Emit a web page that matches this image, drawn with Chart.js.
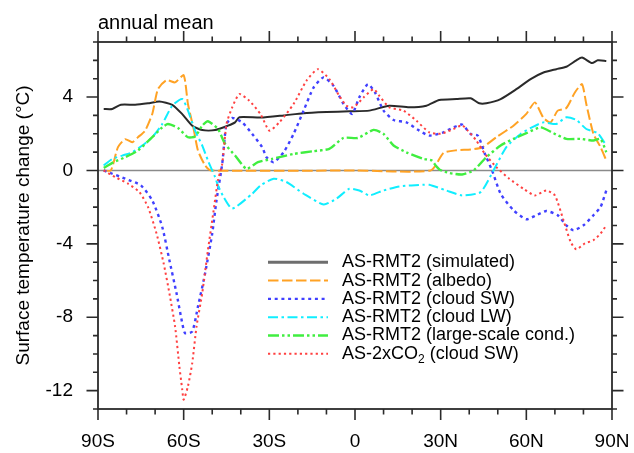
<!DOCTYPE html>
<html>
<head>
<meta charset="utf-8">
<script src="https://cdn.jsdelivr.net/npm/chart.js@4.4.1/dist/chart.umd.min.js"></script>
<style>
html,body{margin:0;padding:0;background:#fff;}
#wrap{width:634px;height:453px;position:relative;}
</style>
</head>
<body>
<div id="wrap"><canvas id="c" width="634" height="453"></canvas></div>
<script>
// ---------- text ----------
const titleText = 'annual mean';
const yAxisTitle = 'Surface temperature change (°C)';
const xTickValues = [-90, -60, -30, 0, 30, 60, 90];
const xTickLabels = ['90S', '60S', '30S', '0', '30N', '60N', '90N'];
const yTickValues = [-12, -8, -4, 0, 4];
const seriesLabels = [
  'AS-RMT2 (simulated)',
  'AS-RMT2 (albedo)',
  'AS-RMT2 (cloud SW)',
  'AS-RMT2 (cloud LW)',
  'AS-RMT2 (large-scale cond.)',
  'AS-2xCO₂ (cloud SW)'
];

// ---------- data (latitude, value) ----------
const simLat = [-88,-85,-82,-77,-72.5,-68.5,-64,-60.5,-57,-53.5,-49,-44.5,-42,-40.5,-33,-25,-18,-10,-2,5,12,19,25,29.5,35.5,40.5,43.5,46,51,56.5,61.5,66,70.5,74,77.5,79.5,83,85,88];
const simVal = [3.35,3.35,3.58,3.58,3.66,3.76,3.58,3.07,2.44,2.2,2.2,2.44,2.62,2.9,2.88,3.0,3.12,3.18,3.22,3.26,3.53,3.44,3.53,3.84,3.89,3.93,3.66,3.66,3.89,4.43,4.98,5.34,5.52,5.65,6.0,6.15,5.85,6.0,5.97];

const albLat = [-88,-85.5,-83,-80.5,-78,-76,-73.5,-71,-69,-66,-63,-60,-58.5,-56.5,-55,-52.5,-50.5,0,26.5,31,35.5,40.5,44.5,49.5,55.5,60,63,66,68.5,71,74,77,79.5,81,83.5,86,88];
const albVal = [0,0,1.27,1.7,1.54,1.81,2.17,3.08,4.43,4.92,4.8,5.19,3.62,2.26,1.09,0.27,0,0,0,0.95,1.1,1.14,1.25,1.81,2.44,3.08,3.71,2.86,2.62,3.26,3.4,4.25,4.7,3.62,1.99,1.27,0.54];

const swLat = [-88,-85,-80.5,-75,-71,-67.5,-65,-62.5,-60.5,-59.5,-57,-55,-52.5,-50,-48.5,-46.5,-45,-43,-39.5,-36,-32.5,-31,-28.5,-25,-21.5,-18,-14.5,-11,-7.5,-4,-1,1.5,4.5,7,10,13.5,18,22.5,26,31,34.5,37.5,40.5,43,45.5,48,51,55.5,60,63.5,67,71,74,76.5,80,83.5,86,88];
const swVal = [0,-0.18,-0.45,-0.81,-1.63,-3.08,-4.89,-6.69,-8.32,-8.87,-8.78,-7.42,-5.61,-3.44,-1.63,0.36,2.53,2.86,2.62,1.99,1.27,0.72,0.45,0.99,1.99,3.26,4.52,5.07,4.61,3.62,3.08,3.98,4.7,4.25,3.26,2.75,2.62,2.17,1.9,2.08,2.35,2.5,1.99,1.9,0.9,0,-1.27,-2.17,-2.66,-2.44,-2.21,-2.44,-2.99,-3.26,-2.99,-2.44,-1.99,-1.09];

const lwLat = [-88,-85,-81.5,-78,-74.5,-71,-67.5,-64,-60.5,-58.5,-56,-53.5,-51.5,-49,-48,-46,-43,-36,-33,-28.5,-24,-18,-11,-6.5,-2,1.5,5,10,15.5,24,26,32,37.5,44,48.5,53,58,62.5,66,70.5,74,77.5,81,85,88];
const lwVal = [0.27,0.63,0.81,0.99,1.36,1.81,2.53,3.53,3.89,3.26,2.17,1.36,0.54,-0.36,-0.81,-1.45,-2.08,-1.27,-0.81,-0.45,-0.63,-1.27,-1.85,-1.54,-1.0,-1.09,-1.36,-1.09,-0.87,-0.78,-0.78,-1.09,-1.36,-1.18,0,1.27,1.99,2.39,2.62,2.53,2.9,2.75,2.26,2.03,1.36];

const lscLat = [-88,-84.5,-80.5,-76,-71,-67.5,-65.5,-62,-58.5,-56,-53.5,-51.5,-48,-45.5,-42,-38,-34,-29,-21.5,-14.5,-9,-4,1,6.5,10,13.5,18,24,26.8,28.5,29.7,33,37.5,41.5,46,51,55.5,60,65,69.5,74,79,83.5,86,88];
const lscVal = [0.14,0.45,0.72,1.09,1.81,2.35,2.53,2.32,1.81,1.85,2.44,2.68,2.26,1.45,0.81,0.09,0.45,0.63,0.9,1.05,1.18,1.77,1.77,2.21,1.99,1.36,0.99,0.63,0.55,0.22,0.04,-0.14,-0.22,0,0.72,1.36,1.72,2.03,2.35,2.03,1.72,1.72,1.63,1.72,0.99];

const co2Lat = [-88,-84,-79.5,-75.5,-72.5,-69.5,-67,-65,-63,-61.5,-60.5,-60,-58.5,-57,-55.5,-53.5,-51.5,-49.5,-48,-46.5,-45,-43,-40.5,-37,-33,-30,-26.5,-21.5,-17,-13,-9,-5.5,-3,-0.5,3,6.5,8.5,12,17,21.5,26,30,34.5,37.5,39.5,42.5,45.5,49.5,54,59,63,67,70,73,75.5,77.5,80.5,83.5,86,88];
const co2Val = [0,-0.36,-0.72,-1.18,-1.99,-3.44,-5.07,-6.69,-8.51,-10.68,-11.94,-12.49,-11.76,-10.5,-8.51,-6.69,-4.34,-2.17,-0.54,0.36,2.53,3.44,4.16,3.8,3.05,2.17,2.62,3.62,4.89,5.52,4.98,4.07,3.53,3.44,3.98,4.43,4.07,3.44,3.26,2.71,2.08,2.0,2.26,2.46,2.17,1.63,0.9,0.18,-0.45,-1.0,-1.36,-1.09,-1.36,-2.71,-3.89,-4.3,-3.98,-3.8,-3.44,-2.99];

// ---------- build ----------
const FONT = "'Liberation Sans', Arial, Helvetica, sans-serif";
const pts = (lat, val) => lat.map((x, i) => ({x: x, y: val[i]}));

const styles = [
  {color: '#2a2a2a', legendColor: '#6e6e6e', width: 2, legendWidth: 3, dash: []},
  {color: '#ffa224', width: 2, dash: [10.5, 3.5]},
  {color: '#4040ff', width: 2.4, dash: [3, 3.7]},
  {color: '#10eeff', width: 2, dash: [10, 3.5, 2.5, 3.5]},
  {color: '#40ee40', width: 2.4, dash: [11, 3, 2.5, 3, 2.5, 3]},
  {color: '#ff4040', width: 2, dash: [2.2, 3.1]}
];
const seriesData = [pts(simLat, simVal), pts(albLat, albVal), pts(swLat, swVal), pts(lwLat, lwVal), pts(lscLat, lscVal), pts(co2Lat, co2Val)];

const datasets = seriesData.map((d, i) => ({
  label: seriesLabels[i],
  data: d,
  borderColor: styles[i].color,
  borderWidth: styles[i].width,
  borderDash: styles[i].dash,
  pointRadius: 0,
  fill: false,
  tension: 0.2,
  order: 6 - i
}));

const axesPlugin = {
  id: 'nclAxes',
  beforeDatasetsDraw(chart) {
    const {ctx, chartArea: a, scales: {y}} = chart;
    const y0 = y.getPixelForValue(0);
    ctx.save();
    ctx.strokeStyle = '#8a8a8a';
    ctx.lineWidth = 1.6;
    ctx.beginPath();
    ctx.moveTo(a.left, y0);
    ctx.lineTo(a.right, y0);
    ctx.stroke();
    ctx.restore();
  },
  afterDatasetsDraw(chart) {
    const {ctx, chartArea: a, scales: {x, y}} = chart;
    ctx.save();
    ctx.strokeStyle = '#2b2b2b';
    ctx.lineWidth = 1.8;
    ctx.strokeRect(a.left, a.top, a.right - a.left, a.bottom - a.top);
    ctx.lineWidth = 1.6;
    ctx.beginPath();
    for (let v = -90; v <= 90; v += 10) {
      const px = x.getPixelForValue(v);
      const major = v % 30 === 0;
      const len = major ? 11 : 5.5;
      ctx.moveTo(px, a.bottom); ctx.lineTo(px, a.bottom + len);
      ctx.moveTo(px, a.top); ctx.lineTo(px, a.top - len);
    }
    for (let v = -13; v <= 7; v += 1) {
      const py = y.getPixelForValue(v);
      const major = yTickValues.includes(v);
      const len = major ? 11.5 : 5;
      ctx.moveTo(a.left, py); ctx.lineTo(a.left - len, py);
      ctx.moveTo(a.right, py); ctx.lineTo(a.right + len, py);
    }
    ctx.stroke();
    ctx.restore();
  },
  afterDraw(chart) {
    const {ctx, chartArea: a} = chart;
    ctx.save();
    // title
    ctx.fillStyle = '#000';
    ctx.font = '20px ' + FONT;
    ctx.textAlign = 'left';
    ctx.textBaseline = 'alphabetic';
    ctx.fillText(titleText, a.left, 29);
    // legend
    const lx0 = 268, lx1 = 328, tx = 342, ly0 = 262.3, dy = 18.3;
    chart.data.datasets.forEach((ds, i) => {
      const st = styles[i];
      const yy = ly0 + i * dy;
      ctx.save();
      ctx.strokeStyle = st.legendColor || st.color;
      ctx.lineWidth = st.legendWidth || st.width;
      ctx.setLineDash(st.dash);
      ctx.beginPath();
      ctx.moveTo(lx0, yy);
      ctx.lineTo(lx1, yy);
      ctx.stroke();
      ctx.restore();
      ctx.fillStyle = '#000';
      ctx.textBaseline = 'middle';
      ctx.textAlign = 'left';
      const parts = ds.label.split('₂');
      let cx = tx;
      parts.forEach((p, k) => {
        ctx.font = '18px ' + FONT;
        ctx.fillText(p, cx, yy);
        cx += ctx.measureText(p).width;
        if (k < parts.length - 1) {
          ctx.font = '12px ' + FONT;
          ctx.fillText('2', cx, yy + 6);
          cx += ctx.measureText('2').width;
        }
      });
    });
    ctx.restore();
  }
};

new Chart(document.getElementById('c'), {
  type: 'line',
  data: {datasets: datasets},
  options: {
    responsive: false,
    animation: false,
    devicePixelRatio: 1,
    layout: {padding: {left: 0, right: 22, top: 42, bottom: 0}},
    plugins: {legend: {display: false}, title: {display: false}, tooltip: {enabled: false}},
    scales: {
      x: {
        type: 'linear',
        min: -90, max: 90,
        afterBuildTicks: s => { s.ticks = xTickValues.map(v => ({value: v})); },
        afterFit: s => { s.height = 44; s.paddingLeft = 0; s.paddingRight = 0; },
        grid: {display: false, drawTicks: false},
        border: {display: false},
        ticks: {
          autoSkip: false, maxRotation: 0, minRotation: 0,
          padding: 21,
          color: '#000',
          font: {family: FONT, size: 19},
          callback: v => xTickLabels[xTickValues.indexOf(v)]
        }
      },
      y: {
        type: 'linear',
        min: -13, max: 7,
        afterBuildTicks: s => { s.ticks = yTickValues.map(v => ({value: v})); },
        afterFit: s => { s.width = 98; s.paddingTop = 0; s.paddingBottom = 0; },
        grid: {display: false, drawTicks: false},
        border: {display: false},
        ticks: {
          padding: 25,
          color: '#000',
          font: {family: FONT, size: 19},
          callback: v => String(v)
        },
        title: {
          display: true,
          text: yAxisTitle,
          color: '#000',
          font: {family: FONT, size: 19},
          padding: {top: 12, bottom: 0}
        }
      }
    }
  },
  plugins: [axesPlugin]
});
</script>
</body>
</html>
